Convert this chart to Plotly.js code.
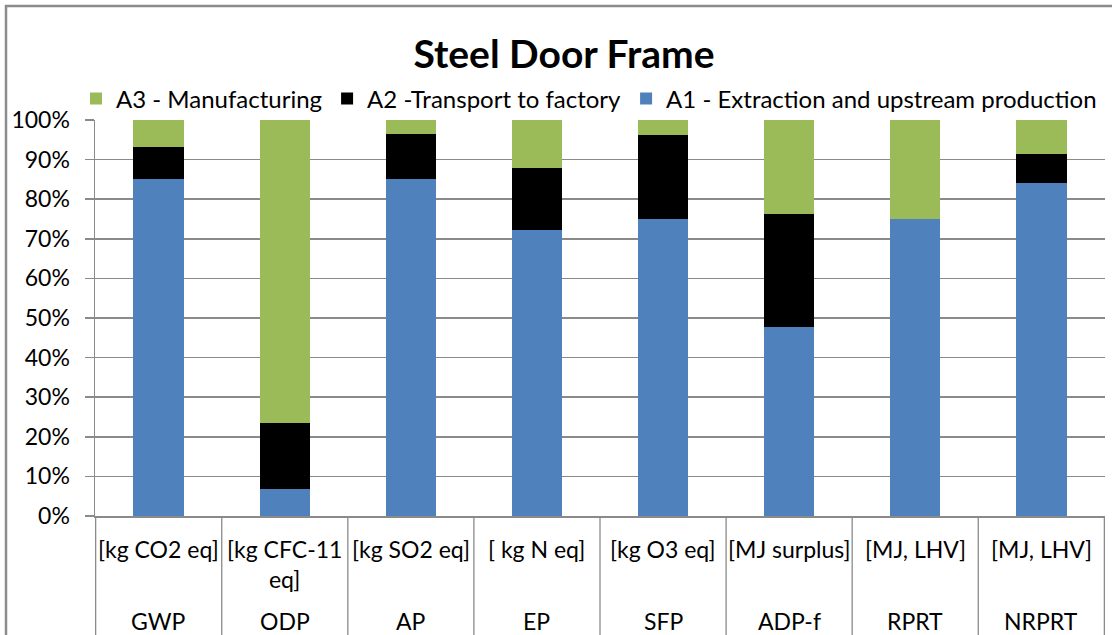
<!DOCTYPE html>
<html>
<head>
<meta charset="utf-8">
<script src="https://cdn.plot.ly/plotly-3.0.1.min.js"></script>
<style>
  html, body { margin: 0; padding: 0; background: #ffffff; }
  #chart { width: 1112px; height: 635px; }
</style>
</head>
<body>
<div id="chart"></div>
<script>
// ---- Data (percent shares) ----
const categories = ['GWP', 'ODP', 'AP', 'EP', 'SFP', 'ADP-f', 'RPRT', 'NRPRT'];
const units = ['[kg CO2 eq]', '[kg CFC-11<br>eq]', '[kg SO2 eq]', '[ kg N eq]', '[kg O3 eq]', '[MJ surplus]', '[MJ, LHV]', '[MJ, LHV]'];
const a1Extraction = [85.0, 6.8, 85.2, 72.2, 75.1, 47.8, 75.0, 84.1];
const a2Transport = [8.3, 16.8, 11.3, 15.6, 21.0, 28.4, 0.0, 7.4];
const a3Manufacturing = [6.7, 76.4, 3.5, 12.2, 3.9, 23.8, 25.0, 8.5];
const seriesNames = ['A1 - Extraction and upstream production', 'A2 -Transport to factory', 'A3 - Manufacturing'];
const yTickValues = [0, 10, 20, 30, 40, 50, 60, 70, 80, 90, 100];
const yTickLabels = ['0%', '10%', '20%', '30%', '40%', '50%', '60%', '70%', '80%', '90%', '100%'];

const FONT = 'Lato, "Open Sans", sans-serif';
const GRID = '#8a8a8a';

const traces = [
  { type: 'bar', name: seriesNames[0], x: categories, y: a1Extraction, marker: { color: '#4F81BD' } },
  { type: 'bar', name: seriesNames[1], x: categories, y: a2Transport, marker: { color: '#000000' } },
  { type: 'bar', name: seriesNames[2], x: categories, y: a3Manufacturing, marker: { color: '#9BBB59' } }
];

// plot area: x 95..1105, y 120..516  -> margins
const plotTop = 120, plotBottom = 516, plotLeft = 95, plotRight = 1105;
const plotH = plotBottom - plotTop, plotW = plotRight - plotLeft;
const py = (pix) => (plotBottom - pix) / plotH;   // pixel y -> paper y
const px = (pix) => (pix - plotLeft) / plotW;     // pixel x -> paper x

const annotations = [];
categories.forEach((c, i) => {
  annotations.push({
    x: c, xref: 'x', y: py(533), yref: 'paper', yanchor: 'top', xanchor: 'center',
    text: units[i], showarrow: false, align: 'center',
    font: { family: FONT, size: 23, color: '#000' }
  });
  annotations.push({
    x: c, xref: 'x', y: py(621), yref: 'paper', yanchor: 'middle', xanchor: 'center',
    text: c, showarrow: false,
    font: { family: FONT, size: 23, color: '#000' }
  });
});

const shapes = [];
for (let i = 0; i <= categories.length; i++) {
  shapes.push({
    type: 'line', xref: 'x', yref: 'paper',
    x0: i - 0.5, x1: i - 0.5, y0: 0, y1: py(640),
    line: { color: GRID, width: 1.3 }
  });
}
// chart-area border (left and top edges visible in the reference)
shapes.push({
  type: 'line', xref: 'paper', yref: 'paper',
  x0: px(6), x1: px(6), y0: py(5), y1: py(660), line: { color: '#8c8c8c', width: 2.5 }
});
shapes.push({
  type: 'line', xref: 'paper', yref: 'paper',
  x0: px(5), x1: px(1130), y0: py(6), y1: py(6), line: { color: '#8c8c8c', width: 2.5 }
});

const layout = {
  width: 1112, height: 635,
  margin: { l: plotLeft, r: 1112 - plotRight, t: plotTop, b: 635 - plotBottom, pad: 0 },
  paper_bgcolor: '#ffffff', plot_bgcolor: '#ffffff',
  font: { family: FONT, size: 23, color: '#000' },
  title: {
    text: '<b>Steel Door Frame</b>',
    font: { family: FONT, size: 39, color: '#000' },
    x: 564 / 1112, xref: 'container', xanchor: 'center',
    y: 1 - 54 / 635, yref: 'container', yanchor: 'middle'
  },
  barmode: 'stack',
  bargap: 0.6,
  showlegend: true,
  legend: {
    orientation: 'h', traceorder: 'reversed',
    x: px(76), xanchor: 'left', y: py(99), yanchor: 'middle',
    font: { family: FONT, size: 24, color: '#000' },
    bgcolor: 'rgba(0,0,0,0)', itemclick: false
  },
  xaxis: {
    type: 'category', showticklabels: false, ticks: '',
    showline: true, linecolor: GRID, linewidth: 1.5,
    showgrid: false, zeroline: false, fixedrange: true
  },
  yaxis: {
    range: [0, 100], tickmode: 'array', tickvals: yTickValues, ticktext: yTickLabels,
    showgrid: true, gridcolor: GRID, gridwidth: 1.5,
    showline: true, linecolor: GRID, linewidth: 1.5,
    ticks: 'outside', ticklen: 9, tickcolor: GRID, tickwidth: 1.5,
    ticklabelstandoff: 10,
    tickfont: { family: FONT, size: 23, color: '#000' },
    zeroline: false, fixedrange: true
  },
  annotations: annotations,
  shapes: shapes
};

Plotly.newPlot('chart', traces, layout, { displayModeBar: false, staticPlot: true });
</script>
</body>
</html>
